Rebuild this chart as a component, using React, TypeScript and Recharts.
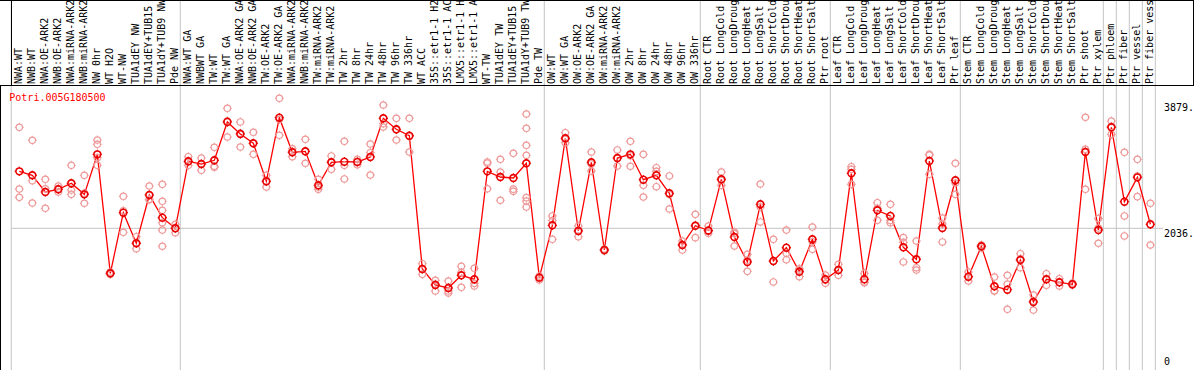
import React from 'react';
import { ComposedChart, Line, Scatter, XAxis, YAxis, ReferenceLine } from 'recharts';

const geneId = 'Potri.005G180500';

const labels = [
  'NWA:WT', 'NWB:WT', 'NWA:OE-ARK2', 'NWB:OE-ARK2', 'NWA:miRNA-ARK2', 'NWB:miRNA-ARK2',
  'NW 0hr', 'WT H2O', 'WT-NW', 'TUA1dEY NW', 'TUA1dEY+TUB15 NW', 'TUA1dY+TUB9 NW', 'Pde NW',
  'NWA:WT GA', 'NWBWT GA', 'TW:WT', 'TW:WT GA', 'NWA:OE-ARK2 GA', 'NWB:OE-ARK2 GA',
  'TW:OE-ARK2', 'TW:OE-ARK2 GA', 'NWA:miRNA-ARK2 GA', 'NWB:miRNA-ARK2 GA', 'TW:miRNA-ARK2',
  'TW:miRNA-ARK2 GA', 'TW 2hr', 'TW 8hr', 'TW 24hr', 'TW 48hr', 'TW 96hr', 'TW 336hr',
  'WT ACC', '35S::etr1-1 H2O', '35S::etr1-1 ACC', 'LMX5::etr1-1 H2O', 'LMX5::etr1-1 ACC',
  'WT-TW', 'TUA1dEY TW', 'TUA1dEY+TUB15 TW', 'TUA1dY+TUB9 TW', 'Pde TW',
  'OW:WT', 'OW:WT GA', 'OW:OE-ARK2', 'OW:OE-ARK2 GA', 'OW:miRNA-ARK2', 'OW:miRNA-ARK2 GA',
  'OW 2hr', 'OW 8hr', 'OW 24hr', 'OW 48hr', 'OW 96hr', 'OW 336hr',
  'Root CTR', 'Root LongCold', 'Root LongDrought', 'Root LongHeat', 'Root LongSalt',
  'Root ShortCold', 'Root ShortDrought', 'Root ShortHeat', 'Root ShortSalt', 'Ptr root',
  'Leaf CTR', 'Leaf LongCold', 'Leaf LongDrought', 'Leaf LongHeat', 'Leaf LongSalt',
  'Leaf ShortCold', 'Leaf ShortDrought', 'Leaf ShortHeat', 'Leaf ShortSalt', 'Ptr leaf',
  'Stem CTR', 'Stem LongCold', 'Stem LongDrought', 'Stem LongHeat', 'Stem LongSalt',
  'Stem ShortCold', 'Stem ShortDrought', 'Stem ShortHeat', 'Stem ShortSalt', 'Ptr shoot',
  'Ptr xylem', 'Ptr phloem', 'Ptr fiber', 'Ptr vessel', 'Ptr fiber vessel',
];

const means = [
  2871, 2813, 2568, 2608, 2696, 2534, 3120, 1377, 2265, 1817, 2524, 2192, 2036,
  3018, 2978, 3033, 3594, 3418, 3282, 2725, 3657, 3150, 3164, 2666, 3003, 3012, 3008, 3081,
  3648, 3487, 3393, 1440, 1206, 1162, 1348, 1289, 2871, 2788, 2773, 2989, 1313,
  2080, 3355, 1997, 3003, 1718, 3066, 3120, 2748, 2813, 2549, 1792, 2074,
  2004, 2754, 1909, 1543, 2388, 1557, 1752, 1400, 1875, 1289,
  1425, 2842, 1289, 2300, 2217, 1758, 1582, 3022, 2041, 2740,
  1327, 1773, 1187, 1137, 1572, 957, 1289, 1245, 1216, 3154, 2011,
  3516, 2426, 2783, 2095,
];

const replicates = [
  [3516, 2612, 2490], [3326, 2734, 2407], [2754, 2616, 2329], [2656, 2612, 2568],
  [2959, 2597, 2534], [2813, 2403, 2550], [3330, 3267, 3071, 2959], [1396, 1362, 1382],
  [2505, 2294, 1978], [1913, 1737, 1821], [2656, 2461, 2455], [2681, 2432, 2300, 2118, 2011, 1773],
  [2095, 1972, 2040],
  [3085, 2959, 3010], [3066, 2886, 2980], [3223, 2945, 2930], [3794, 3374, 3610],
  [3594, 3227, 3430], [3443, 3120, 3280], [2813, 2641, 2720], [3941, 3399, 3630],
  [3202, 3085, 3160], [3340, 2989, 3160], [2754, 2608, 2640], [3096, 2901, 3010],
  [3311, 2959, 2759], [3047, 2968, 3010], [3271, 3144, 2817], [3843, 3569, 3520],
  [3648, 3330, 3480], [3648, 3154, 3380], [1518, 1362, 1440], [1275, 1118, 1220],
  [1264, 1118, 1088], [1480, 1172, 1390], [1450, 1191, 1230], [3008, 2616, 2990],
  [3047, 2861, 2447], [3135, 2578, 2610], [3711, 3501, 3252, 3106, 2485, 2436, 2348],
  [1338, 1279, 1320],
  [2217, 1875, 2150], [3437, 3290, 3340], [2070, 1913, 2010], [3154, 2876, 2980],
  [1733, 1704, 1718], [3184, 2949, 3060], [3311, 2945, 3100], [3120, 2666, 2495],
  [2924, 2646, 2870], [2803, 2319, 2530], [1850, 1718, 1800], [2241, 1899, 2080],
  [2070, 1963, 1990], [2861, 2666, 2740], [1982, 1777, 1960], [1655, 1406, 1570],
  [2685, 2129, 2350], [1875, 1250, 1550], [2011, 1576, 1670], [1444, 1327, 1420],
  [2055, 1729, 1840], [1352, 1231, 1280],
  [1509, 1348, 1420], [2939, 2681, 2900], [1377, 1250, 1240], [2411, 2154, 2330],
  [2388, 2118, 2150], [1899, 1543, 1830], [1850, 1459, 1425], [3120, 2827, 3110],
  [2187, 1836, 2100], [2989, 2534, 2700],
  [1396, 1264, 1320], [1792, 1748, 1780], [1323, 1118, 1120], [1348, 1220, 850],
  [1664, 1459, 1590], [1059, 839, 970], [1371, 1201, 1290], [1298, 1191, 1245],
  [1235, 1206, 1216], [3663, 3194, 2608], [2180, 1817, 2040],
  [3608, 3413, 3530], [3150, 2217, 1924], [3047, 2500, 2800], [2403, 1792, 2090],
];

// first index of each sample group (a separator is drawn just before it)
const groupStarts = [0, 13, 41, 53, 63, 73, 84, 85, 86, 87, 88];
const yTicks = [0, 2036, 3879];
const refValue = 2036;

const W = 1194;
const H = 370;
const FONT = '"DejaVu Sans Mono", monospace';
const SEP = 0.62;
const Y_MAX = 4121;
const MAX_CHARS = 14; // header only has room for this many characters

const lineData = means.map((v, i) => ({ i, v }));
const repData = replicates.flatMap((arr, i) => arr.map((v) => ({ i, v })));

const Ring = ({ cx, cy, color, width, r }: any) => {
  if (cx == null || cy == null) return null;
  const t = r + 1.3;
  return (
    <g>
      <circle cx={cx} cy={cy} r={r} fill="none" stroke={color} strokeWidth={width} />
      <path
        d={`M${cx},${cy - r}L${cx},${cy - t}M${cx},${cy + r}L${cx},${cy + t}M${cx - r},${cy}L${cx - t},${cy}M${cx + r},${cy}L${cx + t},${cy}`}
        stroke={color}
        strokeWidth={1}
      />
    </g>
  );
};

const HeaderTick = ({ x, payload }: any) => (
  <text
    x={x + 2.7}
    y={84}
    transform={`rotate(-90, ${x + 2.7}, 84)`}
    fontFamily={FONT}
    fontSize={10}
    fill="#000"
  >
    {labels[payload.value].slice(0, MAX_CHARS).trimEnd()}
  </text>
);

const ValueTick = ({ x, y, payload }: any) => (
  <text
    x={x - 1}
    y={Math.min(y + 8.5, 365)}
    fontFamily={FONT}
    fontSize={10}
    fill="#000"
    textAnchor="start"
  >
    {payload.value === 0 ? '0' : `${payload.value}.`}
  </text>
);

export default function App() {
  return (
    <div style={{ position: 'absolute', left: 0, top: 0, width: W, height: H, background: '#fff' }}>
      <ComposedChart
        width={W}
        height={H}
        data={lineData}
        margin={{ top: 0, right: 0, left: 11.25, bottom: 2.7 }}
      >
        <XAxis
          xAxisId={0}
          type="number"
          dataKey="i"
          orientation="top"
          height={86}
          domain={[-SEP, 87.97]}
          allowDataOverflow
          ticks={labels.map((_, i) => i)}
          interval={0}
          axisLine={false}
          tickLine={false}
          tick={<HeaderTick />}
        />
        <YAxis
          yAxisId={0}
          dataKey="v"
          orientation="right"
          width={31}
          domain={[0, Y_MAX]}
          allowDataOverflow
          ticks={yTicks}
          interval={0}
          axisLine={false}
          tickLine={false}
          tickSize={0}
          tick={<ValueTick />}
        />
        <ReferenceLine y={refValue} stroke="#c4c4c4" strokeWidth={1} />
        {groupStarts.map((k) => (
          <ReferenceLine
            key={k}
            segment={[{ x: k - SEP, y: -60 }, { x: k - SEP, y: 5400 }]}
            stroke="#c4c4c4"
            strokeWidth={1}
            ifOverflow="visible"
          />
        ))}
        <Scatter
          data={repData}
          dataKey="v"
          isAnimationActive={false}
          shape={(p: any) => <Ring cx={p.cx} cy={p.cy} r={3.2} color="#ee9a9a" width={1.2} />}
        />
        <Line
          dataKey="v"
          stroke="#ff0000"
          strokeWidth={1.3}
          isAnimationActive={false}
          activeDot={false}
          dot={(p: any) => (
            <Ring key={`m${p.index}`} cx={p.cx} cy={p.cy} r={3.4} color="#e80000" width={1.6} />
          )}
        />
      </ComposedChart>
      <svg
        width={W}
        height={H}
        style={{ position: 'absolute', left: 0, top: 0, pointerEvents: 'none' }}
      >
        <line x1={0} y1={0.5} x2={W} y2={0.5} stroke="#000" />
        <line x1={0} y1={85.5} x2={W} y2={85.5} stroke="#000" />
        <line x1={11.5} y1={0} x2={11.5} y2={86} stroke="#000" />
        <line x1={W - 0.5} y1={0} x2={W - 0.5} y2={86} stroke="#000" />
        <line x1={0.5} y1={86} x2={0.5} y2={H} stroke="#000" />
        <text x={9.3} y={101} fontFamily={FONT} fontSize={10} fill="#ff0000">
          {geneId}
        </text>
      </svg>
    </div>
  );
}
